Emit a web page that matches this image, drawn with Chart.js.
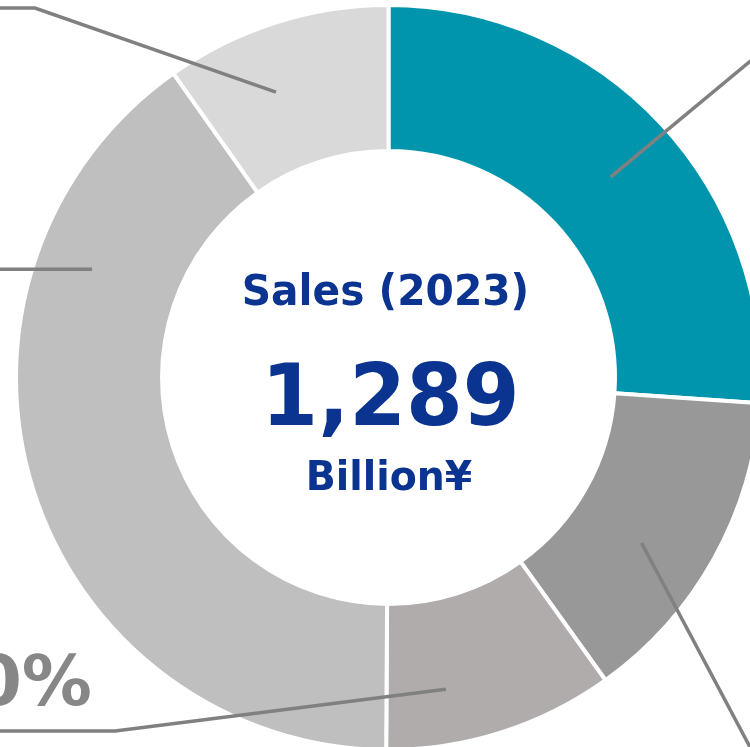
<!DOCTYPE html>
<html>
<head>
<meta charset="utf-8">
<script src="https://cdn.jsdelivr.net/npm/chart.js@4.4.1/dist/chart.umd.min.js"></script>
<style>
  html, body { margin: 0; padding: 0; width: 750px; height: 747px; overflow: hidden; background: #ffffff; }
  #wrap { position: absolute; left: 0; top: 0; }
</style>
</head>
<body>
<div id="wrap"><canvas id="salesChart" width="777" height="755"></canvas></div>
<script>
// Sales breakdown by business, share of total (%)
const segmentNames = ['Business A', 'Business B', 'Business C', 'Business D', 'Business E'];
const segmentShares = [26.1, 14.0, 10, 40.1, 9.8];
const segmentColors = ['#0095AD', '#989898', '#B0ACAB', '#BFBFBF', '#D9D9D9'];

// Centre caption
const captionTitle = 'Sales (2023)';
const captionTotal = '1,289';
const captionUnit = 'Billion¥';

// Callout labels per segment (only some fall inside the page)
const calloutLabels = [null, null, '10%', null, null];

// Leader-line geometry: anchor inside each segment (fraction along the arc,
// fraction across the ring), then bend / end points in units of outer radius
// measured from the chart centre.
const calloutAnchors = [
  { along: 0.51, across: 0.50 },
  { along: 0.58, across: 0.52 },
  { along: 0.70, across: 0.62 },
  { along: 0.76, across: 0.61 },
  { along: 0.39, across: 0.55 }
];
const calloutPaths = [
  [[1.078, -0.938]],
  [[0.997, 1.042]],
  [[-0.734, 0.949], [-1.097, 0.949]],
  [[-1.097, null]],
  [[-0.949, -0.992], [-1.097, -0.992]]
];
const calloutTextPos = [null, null, [-0.796, 0.879], null, null];

const TEXT_BLUE = '#0B3390';
const LINE_GREY = '#808080';
const LABEL_GREY = '#878787';

const overlayPlugin = {
  id: 'overlay',
  afterDatasetsDraw(chart) {
    const ctx = chart.ctx;
    const meta = chart.getDatasetMeta(0);
    const first = meta.data[0];
    const cx = first.x, cy = first.y, R = first.outerRadius;

    // leader lines
    ctx.save();
    ctx.strokeStyle = LINE_GREY;
    ctx.lineWidth = 3.5;
    ctx.lineJoin = 'miter';
    meta.data.forEach((arc, i) => {
      const a = calloutAnchors[i];
      const ang = arc.startAngle + a.along * (arc.endAngle - arc.startAngle);
      const r = arc.innerRadius + a.across * (arc.outerRadius - arc.innerRadius);
      const ax = cx + r * Math.cos(ang);
      const ay = cy + r * Math.sin(ang);
      ctx.beginPath();
      ctx.moveTo(ax, ay);
      calloutPaths[i].forEach(p => {
        const px = cx + p[0] * R;
        const py = p[1] === null ? ay : cy + p[1] * R;
        ctx.lineTo(px, py);
      });
      ctx.stroke();
    });
    ctx.restore();

    // callout labels
    ctx.save();
    ctx.fillStyle = LABEL_GREY;
    ctx.font = 'bold 70px "DejaVu Sans"';
    ctx.textAlign = 'right';
    ctx.textBaseline = 'alphabetic';
    calloutLabels.forEach((txt, i) => {
      if (!txt || !calloutTextPos[i]) return;
      const p = calloutTextPos[i];
      ctx.fillText(txt, cx + p[0] * R, cy + p[1] * R);
    });
    ctx.restore();

    // centre caption
    ctx.save();
    ctx.fillStyle = TEXT_BLUE;
    ctx.textAlign = 'center';
    ctx.textBaseline = 'alphabetic';
    ctx.font = 'bold 42px "DejaVu Sans"';
    ctx.save();
    ctx.translate(cx - 3, cy - 72.5);
    ctx.scale(0.97, 1);
    ctx.fillText(captionTitle, 0, 0);
    ctx.restore();
    ctx.font = 'bold 86px "DejaVu Sans"';
    ctx.save();
    ctx.translate(cx + 2, cy + 47.5);
    ctx.scale(0.95, 1);
    ctx.fillText(captionTotal, 0, 0);
    ctx.restore();
    ctx.font = 'bold 41px "DejaVu Sans"';
    ctx.save();
    ctx.translate(cx + 0.5, cy + 112.5);
    ctx.scale(0.96, 1);
    ctx.fillText(captionUnit, 0, 0);
    ctx.restore();
    ctx.restore();
  }
};

new Chart(document.getElementById('salesChart'), {
  type: 'doughnut',
  data: {
    labels: segmentNames,
    datasets: [{
      data: segmentShares,
      backgroundColor: segmentColors,
      borderColor: '#ffffff',
      borderWidth: 4,
      hoverOffset: 0
    }]
  },
  options: {
    responsive: false,
    animation: false,
    radius: 372.5,
    cutout: '60.8%',
    rotation: 0,
    layout: { padding: 0 },
    plugins: {
      legend: { display: false },
      tooltip: { enabled: false }
    },
    events: []
  },
  plugins: [overlayPlugin]
});
</script>
</body>
</html>
